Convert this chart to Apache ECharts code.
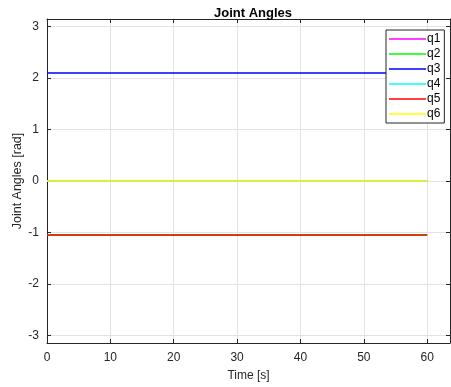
<!DOCTYPE html>
<html>
<head>
<meta charset="utf-8">
<script src="https://cdn.jsdelivr.net/npm/echarts@6/dist/echarts.min.js"></script>
<style>html,body{margin:0;padding:0;background:#fff}#c{width:451px;height:387px}</style>
</head>
<body>
<div id="c"></div>
<script>
const time = [0, 10, 20, 30, 40, 50, 60];
const q1 = [0, 0, 0, 0, 0, 0, 0];
const q2 = [-1.047, -1.047, -1.047, -1.047, -1.047, -1.047, -1.047];
const q3 = [2.094, 2.094, 2.094, 2.094, 2.094, 2.094, 2.094];
const q4 = [0, 0, 0, 0, 0, 0, 0];
const q5 = [-1.047, -1.047, -1.047, -1.047, -1.047, -1.047, -1.047];
const q6 = [0, 0, 0, 0, 0, 0, 0];
const seriesNames = ['q1', 'q2', 'q3', 'q4', 'q5', 'q6'];
const seriesColors = ['#ff00ff', '#00ff00', '#0000ff', '#00ffff', '#ff0000', '#ffff00'];
const xTicks = [0, 10, 20, 30, 40, 50, 60];
const yTicks = [-3, -2, -1, 0, 1, 2, 3];
const yMin = -Math.PI, yMax = Math.PI;
const xMin = 0, xMax = 63.6;

const allData = [q1, q2, q3, q4, q5, q6];
const font = 'Liberation Sans, Arial, Helvetica, sans-serif';
const axisColor = '#262626';
const gridColor = '#e3e3e3';

function xAxisCfg(pos, show) {
  return {
    type: 'value', position: pos, min: xMin, max: xMax,
    axisLine: { show: true, onZero: false, lineStyle: { color: axisColor, width: 1 } },
    axisTick: { show: true, inside: true, length: 4, customValues: xTicks, lineStyle: { color: axisColor } },
    axisLabel: { show: show, customValues: xTicks, color: axisColor, fontSize: 12, fontFamily: font, margin: 9 },
    splitLine: { show: show, lineStyle: { color: gridColor, width: 1 } },
    name: show ? 'Time [s]' : '', nameLocation: 'middle', nameGap: 27, nameMoveOverlap: false,
    nameTextStyle: { color: axisColor, fontSize: 12, fontFamily: font }
  };
}
function yAxisCfg(pos, show) {
  return {
    type: 'value', position: pos, min: yMin, max: yMax,
    axisLine: { show: true, onZero: false, lineStyle: { color: axisColor, width: 1 } },
    axisTick: { show: true, inside: true, length: 4, customValues: yTicks, lineStyle: { color: axisColor } },
    axisLabel: { show: show, customValues: yTicks, color: axisColor, fontSize: 12, fontFamily: font, margin: 8 },
    splitLine: { show: show, lineStyle: { color: gridColor, width: 1 } },
    name: show ? 'Joint Angles [rad]' : '', nameLocation: 'middle', nameGap: 23, nameMoveOverlap: false,
    nameTextStyle: { color: axisColor, fontSize: 12.5, fontFamily: font }
  };
}

const chart = echarts.init(document.getElementById('c'), null, { renderer: 'canvas' });
chart.setOption({
  animation: false,
  backgroundColor: '#ffffff',
  title: {
    text: 'Joint Angles', left: 248, top: 2, textAlign: 'center',
    textStyle: { fontSize: 13, fontWeight: 'bold', color: '#000', fontFamily: font }
  },
  legend: {
    orient: 'vertical', left: 386, top: 30,
    data: seriesNames,
    icon: 'rect', itemWidth: 37, itemHeight: 1.5, itemGap: 3,
    backgroundColor: '#ffffff', borderColor: '#262626', borderWidth: 1,
    padding: [3, 4, 3, 3],
    textStyle: { fontSize: 12, color: '#000', fontFamily: font, padding: [0, 0, 0, -4] }
  },
  grid: { left: 47, right: 1, top: 19, bottom: 44, containLabel: false, outerBoundsMode: 'none' },
  xAxis: [xAxisCfg('bottom', true), xAxisCfg('top', false)],
  yAxis: [yAxisCfg('left', true), yAxisCfg('right', false)],
  series: seriesNames.map((n, i) => ({
    name: n, type: 'line', xAxisIndex: 0, yAxisIndex: 0,
    data: time.map((t, k) => [t, allData[i][k]]),
    showSymbol: false, symbol: 'none',
    lineStyle: { color: seriesColors[i], width: 1.5 },
    itemStyle: { color: seriesColors[i] }
  }))
});
</script>
</body>
</html>
